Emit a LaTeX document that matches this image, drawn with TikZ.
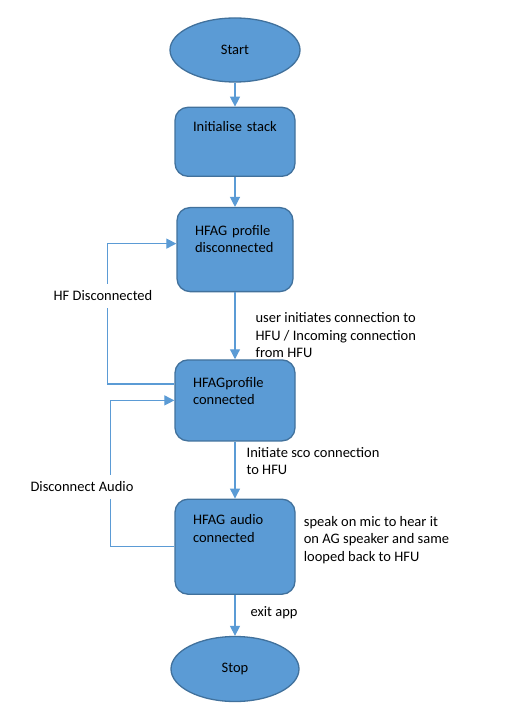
\documentclass[tikz,border=0pt]{standalone}
\usepackage{fontspec}
\setmainfont{Carlito}
\usetikzlibrary{shapes,arrows,arrows.meta,positioning}
\definecolor{boxfill}{HTML}{5B9BD5}
\definecolor{boxline}{HTML}{41719C}
\tikzstyle{startstop} = [ellipse, minimum width=130pt, minimum height=64pt, text centered, draw=boxline, fill=boxfill, line width=1.3pt, font=\fontsize{14.5}{17.5}\selectfont]
\tikzstyle{process} = [rectangle, rounded corners=13pt, text width=84pt, inner xsep=18pt, inner ysep=14.5pt, align=left, draw=boxline, fill=boxfill, line width=1.3pt, font=\fontsize{14.5}{17.5}\selectfont]
\tikzstyle{arrow} = [draw=boxfill, line width=1.2pt, -{Triangle[width=10pt,length=10pt]}]
\tikzstyle{note} = [align=left, inner sep=0pt, font=\fontsize{14.5}{17.5}\selectfont]
\tikzstyle{looplabel} = [fill=white, inner xsep=2pt, inner ysep=7pt, font=\fontsize{14.5}{17.5}\selectfont]

\begin{document}
\begin{tikzpicture}[x=1pt, y=-1pt]
        \useasboundingbox (0,0) rectangle (519,719);
        \node (start) [startstop] at (235,50) {Start};
        \node (init) [process, below=24pt of start, text height=10pt, text depth=30pt] {Initialise stack};
        \node (disc) [process, below=30pt of init, text width=80pt, text height=13pt, text depth=42pt] {HFAG profile\\disconnected};
        \node (conn) [process, below=67pt of disc, text height=13pt, text depth=39pt] {HFAGprofile\\connected};
        \node (audio) [process, below=57pt of conn, text height=11pt, text depth=55pt] {HFAG audio\\connected};
        \node (stop) [startstop, below=41pt of audio, minimum width=128pt, minimum height=65pt] {Stop};
        \node (loopback) [note, right=8pt of audio.east, yshift=7pt] {speak on mic to hear it\\on AG speaker and same\\looped back to HFU};
        \draw [arrow] (start) -- (init);
        \draw [arrow] (init) -- (disc);
        \draw [arrow] (disc) -- node[note, anchor=west, pos=0.64, xshift=20pt] {user initiates connection to\\HFU / Incoming connection\\from HFU} (conn);
        \draw [arrow] (conn) -- node[note, anchor=west, pos=0.34, xshift=11pt] {Initiate sco connection\\to HFU} (audio);
        \draw [arrow] (audio) -- node[note, anchor=west, pos=0.43, xshift=15pt] {exit app} (stop);
        % loops back up
        \draw [arrow] ([yshift=16.5pt]conn.west) -- ++(-67pt,0) |- ([yshift=6pt]disc.west);
        \draw [arrow] (audio.west) -- ++(-64pt,0) |- (conn.west);
        \node (hfdisc) [looplabel] at (103,296) {HF Disconnected};
        \node (discaudio) [looplabel] at (82,487) {Disconnect Audio};
\end{tikzpicture}
\end{document}
